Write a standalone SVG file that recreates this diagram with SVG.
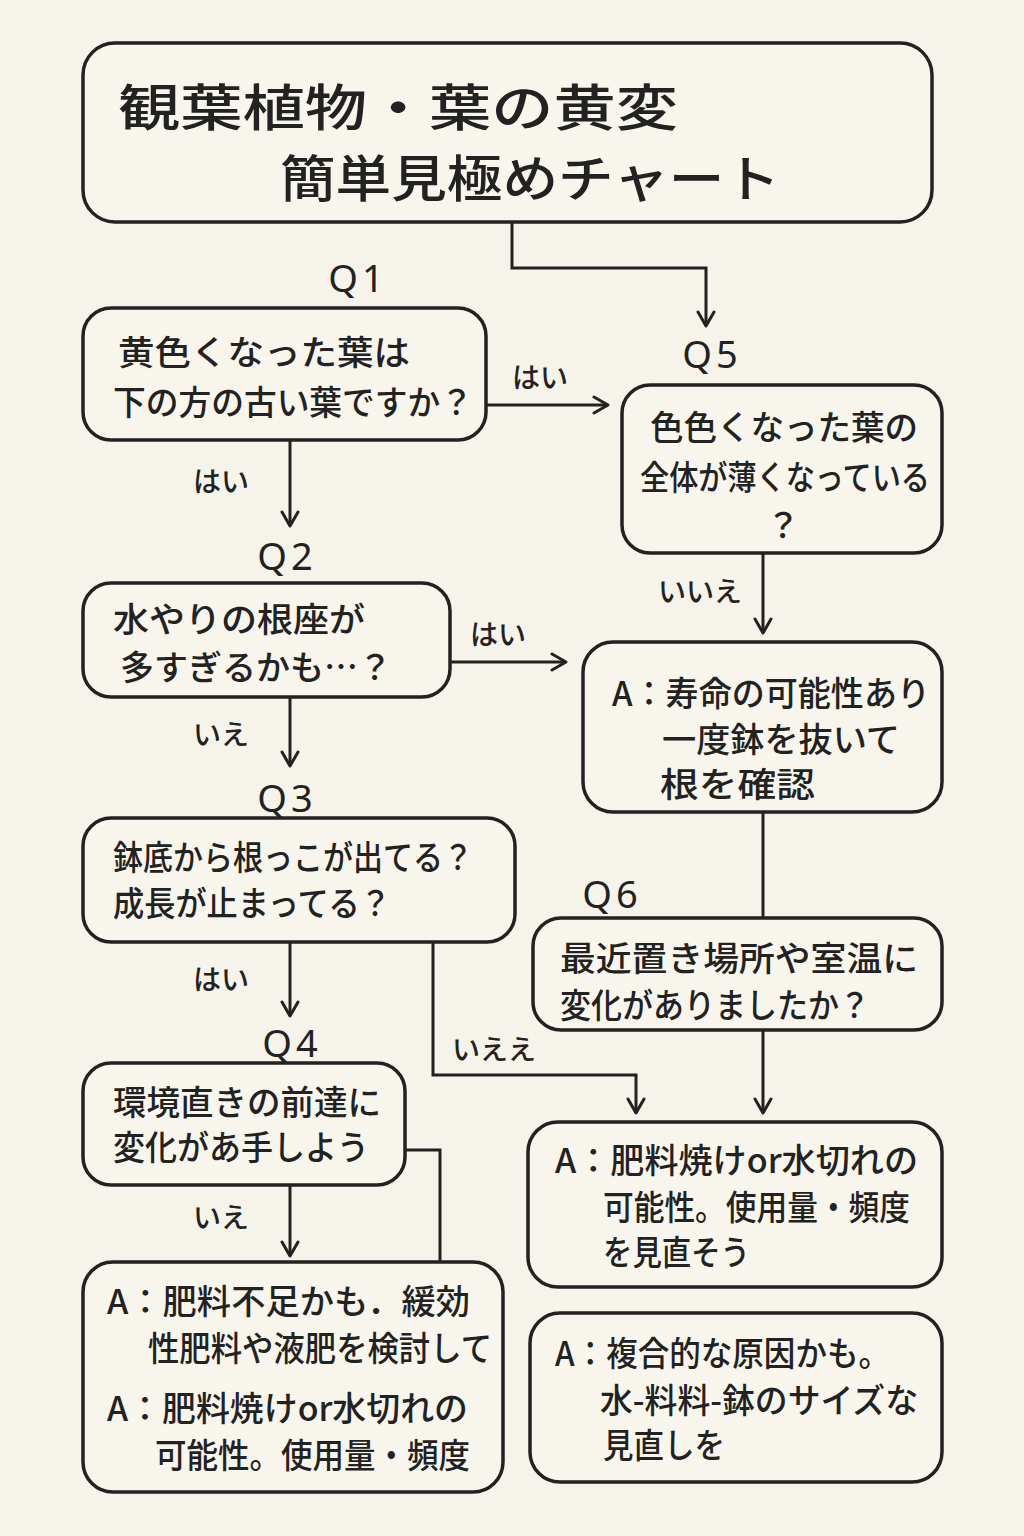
<svg xmlns="http://www.w3.org/2000/svg" width="1024" height="1536" viewBox="0 0 1024 1536">
<defs>
<style>
.box{fill:#f8f5ec;stroke:#222;stroke-width:3.5}
.ln{fill:none;stroke:#222;stroke-width:3}
.t{font-family:"Noto Sans CJK JP","Noto Sans",sans-serif;fill:#222;font-weight:500}
.tt{font-size:50px}
.nt{font-size:34px}
.lb{font-size:28px}
.q{font-family:"Noto Sans","DejaVu Sans",sans-serif;font-size:38px;fill:#222;text-anchor:middle;letter-spacing:4px}
</style>
<marker id="ah" viewBox="0 0 20 20" refX="17" refY="10" markerWidth="20" markerHeight="20" markerUnits="userSpaceOnUse" orient="auto">
<path d="M3,2 L17,10 L3,18" fill="none" stroke="#222" stroke-width="3" stroke-linecap="round" stroke-linejoin="round"/>
</marker>
</defs>
<rect width="1024" height="1536" fill="#f6f3ea"/>

<g id="connectors">
<path class="ln" d="M512,222 V268 H706 V326" marker-end="url(#ah)"/>
<path class="ln" d="M486,405 H608" marker-end="url(#ah)"/>
<path class="ln" d="M290,440 V526" marker-end="url(#ah)"/>
<path class="ln" d="M763,553 V633" marker-end="url(#ah)"/>
<path class="ln" d="M450,662 H566" marker-end="url(#ah)"/>
<path class="ln" d="M290,697 V766" marker-end="url(#ah)"/>
<path class="ln" d="M763,812 V918"/>
<path class="ln" d="M290,942 V1016" marker-end="url(#ah)"/>
<path class="ln" d="M433,942 V1075 H636 V1113" marker-end="url(#ah)"/>
<path class="ln" d="M763,1030 V1113" marker-end="url(#ah)"/>
<path class="ln" d="M405,1150 H440 V1264"/>
<path class="ln" d="M290,1185 V1256" marker-end="url(#ah)"/>
<text class="t lb" x="512" y="388">はい</text>
<text class="t lb" x="193" y="492">はい</text>
<text class="t lb" x="658" y="602">いいえ</text>
<text class="t lb" x="470" y="645">はい</text>
<text class="t lb" x="193" y="745">いえ</text>
<text class="t lb" x="193" y="990">はい</text>
<text class="t lb" x="452" y="1060">いええ</text>
<text class="t lb" x="193" y="1228">いえ</text>
</g>

<g id="title">
<rect class="box" x="83" y="43" width="849" height="179" rx="32"/>
<text class="t tt" x="118" y="126" textLength="560" lengthAdjust="spacingAndGlyphs">観葉植物・葉の黄変</text>
<text class="t tt" x="280" y="197" textLength="500" lengthAdjust="spacingAndGlyphs">簡単見極めチャート</text>
</g>

<g id="q1">
<text class="q" x="358" y="292">Q1</text>
<rect class="box" x="83" y="308" width="403" height="132" rx="28"/>
<text class="t nt" x="118" y="365" textLength="292" lengthAdjust="spacingAndGlyphs">黄色くなった葉は</text>
<text class="t nt" x="113" y="415" textLength="360" lengthAdjust="spacingAndGlyphs">下の方の古い葉ですか？</text>
</g>

<g id="q5">
<text class="q" x="712" y="368">Q5</text>
<rect class="box" x="622" y="385" width="320" height="168" rx="28"/>
<text class="t nt" x="650" y="440" textLength="268" lengthAdjust="spacingAndGlyphs">色色くなった葉の</text>
<text class="t nt" x="640" y="490" textLength="290" lengthAdjust="spacingAndGlyphs">全体が薄くなっている</text>
<text class="t nt" x="783" y="538" text-anchor="middle">？</text>
</g>

<g id="q2">
<text class="q" x="287" y="570">Q2</text>
<rect class="box" x="83" y="583" width="367" height="114" rx="28"/>
<text class="t nt" x="113" y="632" textLength="252" lengthAdjust="spacingAndGlyphs">水やりの根座が</text>
<text class="t nt" x="120" y="680" textLength="272" lengthAdjust="spacingAndGlyphs">多すぎるかも…？</text>
</g>

<g id="a1">
<rect class="box" x="583" y="642" width="359" height="170" rx="30"/>
<text class="t nt" x="612" y="706" textLength="318" lengthAdjust="spacingAndGlyphs">A：寿命の可能性あり</text>
<text class="t nt" x="662" y="752" textLength="238" lengthAdjust="spacingAndGlyphs">一度鉢を抜いて</text>
<text class="t nt" x="660" y="797" textLength="155" lengthAdjust="spacingAndGlyphs">根を確認</text>
</g>

<g id="q3">
<text class="q" x="287" y="812">Q3</text>
<rect class="box" x="83" y="818" width="432" height="124" rx="28"/>
<text class="t nt" x="113" y="870" textLength="360" lengthAdjust="spacingAndGlyphs">鉢底から根っこが出てる？</text>
<text class="t nt" x="113" y="916" textLength="278" lengthAdjust="spacingAndGlyphs">成長が止まってる？</text>
</g>

<g id="q6">
<text class="q" x="612" y="908">Q6</text>
<rect class="box" x="533" y="918" width="409" height="112" rx="28"/>
<text class="t nt" x="560" y="971" textLength="358" lengthAdjust="spacingAndGlyphs">最近置き場所や室温に</text>
<text class="t nt" x="560" y="1018" textLength="310" lengthAdjust="spacingAndGlyphs">変化がありましたか？</text>
</g>

<g id="q4">
<text class="q" x="292" y="1057">Q4</text>
<rect class="box" x="83" y="1063" width="322" height="122" rx="28"/>
<text class="t nt" x="113" y="1115" textLength="268" lengthAdjust="spacingAndGlyphs">環境直きの前達に</text>
<text class="t nt" x="113" y="1160" textLength="256" lengthAdjust="spacingAndGlyphs">変化があ手しよう</text>
</g>

<g id="a2">
<rect class="box" x="528" y="1122" width="414" height="165" rx="30"/>
<text class="t nt" x="555" y="1173" textLength="363" lengthAdjust="spacingAndGlyphs">A：肥料焼けor水切れの</text>
<text class="t nt" x="603" y="1220" textLength="307" lengthAdjust="spacingAndGlyphs">可能性。使用量・頻度</text>
<text class="t nt" x="603" y="1265" textLength="147" lengthAdjust="spacingAndGlyphs">を見直そう</text>
</g>

<g id="a3">
<rect class="box" x="83" y="1262" width="420" height="230" rx="30"/>
<text class="t nt" x="107" y="1314" textLength="363" lengthAdjust="spacingAndGlyphs">A：肥料不足かも．緩効</text>
<text class="t nt" x="148" y="1361" textLength="344" lengthAdjust="spacingAndGlyphs">性肥料や液肥を検討して</text>
<text class="t nt" x="107" y="1421" textLength="361" lengthAdjust="spacingAndGlyphs">A：肥料焼けor水切れの</text>
<text class="t nt" x="155" y="1468" textLength="315" lengthAdjust="spacingAndGlyphs">可能性。使用量・頻度</text>
</g>

<g id="a4">
<rect class="box" x="530" y="1313" width="412" height="169" rx="30"/>
<text class="t nt" x="555" y="1366" textLength="335" lengthAdjust="spacingAndGlyphs">A：複合的な原因かも。</text>
<text class="t nt" x="600" y="1413" textLength="318" lengthAdjust="spacingAndGlyphs">水-料料-鉢のサイズな</text>
<text class="t nt" x="603" y="1458" textLength="122" lengthAdjust="spacingAndGlyphs">見直しを</text>
</g>
</svg>
